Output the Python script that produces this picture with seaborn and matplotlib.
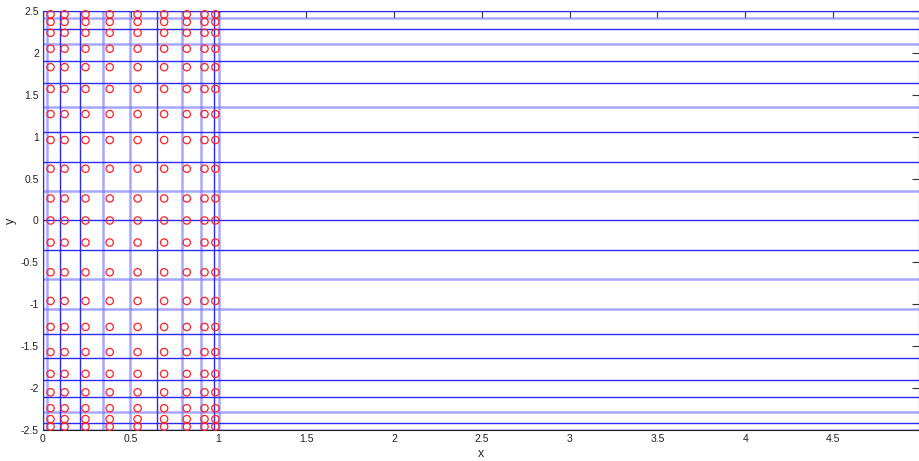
#!/usr/bin/env python3
"""Mesh lines over node points on a narrow strip (MATLAB-like axes)."""

import matplotlib

matplotlib.use("Agg")
import matplotlib.pyplot as plt
import numpy as np
import pandas as pd
import seaborn as sns

# node locations
NODE_X = [0.043, 0.123, 0.242, 0.380, 0.539, 0.690, 0.819, 0.920, 0.982]
NODE_Y = [-2.46, -2.37, -2.24, -2.05, -1.83, -1.57, -1.27, -0.96, -0.618, -0.263,
          0.0, 0.263, 0.618, 0.96, 1.27, 1.57, 1.83, 2.05, 2.24, 2.37, 2.46]

# vertical mesh lines (x) with shade: True = dark, False = light
VLINE_X = [0.0, 0.023, 0.094, 0.209, 0.344, 0.497, 0.650, 0.790, 0.902, 0.974, 1.0]
VLINE_DARK = [True, False, True, True, False, False, True, False, False, True, False]

# horizontal mesh lines (y)
HLINE_Y = [2.5, 2.413, 2.288, 2.111, 1.90, 1.645, 1.358, 1.051, 0.701, 0.352, 0.0,
           -0.352, -0.701, -1.051, -1.358, -1.645, -1.90, -2.111, -2.288, -2.413, -2.5]
HLINE_DARK = [True, False, True, False, True, True, False, True, True, False, True,
              True, False, False, True, True, True, True, False, True, False]

X_TICKS = [0, 0.5, 1, 1.5, 2, 2.5, 3, 3.5, 4, 4.5]
Y_TICKS = [-2.5, -2, -1.5, -1, -0.5, 0, 0.5, 1, 1.5, 2, 2.5]

DARK = "#2a2af0"
LIGHT = "#7878ff"


def main() -> None:
    sns.set_theme(style="white")
    plt.rcParams["font.family"] = ["Liberation Sans", "DejaVu Sans"]

    fig = plt.figure(figsize=(9.19, 4.61), dpi=100)
    ax = fig.add_axes([43 / 919, 1 - 430 / 461, 1 - 43 / 919, 419 / 461])

    x_lo, x_hi = 0.0, 4.99
    y_lo, y_hi = -2.5, 2.5

    for y, dark in zip(HLINE_Y, HLINE_DARK):
        if dark:
            ax.hlines(y, x_lo, x_hi, color=DARK, lw=1.0, zorder=3)
        else:
            ax.hlines(y, x_lo, x_hi, color=LIGHT, lw=1.8, alpha=0.65, zorder=2)

    for x, dark in zip(VLINE_X, VLINE_DARK):
        if dark:
            ax.vlines(x, y_lo, y_hi, color=DARK, lw=1.0, zorder=3)
        else:
            ax.vlines(x, y_lo, y_hi, color=LIGHT, lw=1.8, alpha=0.65, zorder=2)

    gx, gy = np.meshgrid(NODE_X, NODE_Y)
    nodes = pd.DataFrame({"x": gx.ravel(), "y": gy.ravel()})
    sns.scatterplot(
        data=nodes,
        x="x",
        y="y",
        marker="o",
        s=28,
        facecolor="none",
        edgecolor="#ff2020",
        linewidth=0.9,
        ax=ax,
        zorder=4,
        clip_on=False,
    )

    ax.set_xlim(x_lo, x_hi)
    ax.set_ylim(y_lo, y_hi)
    ax.set_xticks(X_TICKS)
    ax.set_xticklabels([f"{v:g}" for v in X_TICKS])
    ax.set_yticks(Y_TICKS)
    ax.set_yticklabels([f"{v:g}" for v in Y_TICKS])
    ax.tick_params(axis="both", which="both", direction="in", length=5, width=0.8,
                   color="#333333", labelsize=7.5, labelcolor="#222222",
                   top=True, right=True, pad=3)
    ax.set_xlabel("x", fontsize=9, labelpad=3)
    ax.set_ylabel("y", fontsize=9, labelpad=3)
    ax.grid(False)
    for side in ax.spines.values():
        side.set_color("#222222")
        side.set_linewidth(0.8)
    fig.patch.set_facecolor("white")
    fig.savefig("out.png", dpi=100)
    plt.close(fig)


if __name__ == "__main__":
    main()
